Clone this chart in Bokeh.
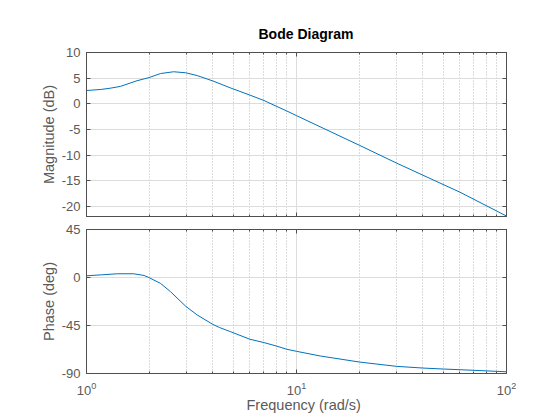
from bokeh.plotting import figure
from bokeh.models import LogAxis, LinearAxis, FixedTicker, Range1d, Title
from bokeh.layouts import column
from bokeh.embed import file_html
from bokeh.resources import INLINE

# ---- data ----
freq_mag = [1.0, 1.17, 1.3, 1.45, 1.74, 1.98, 2.25, 2.6, 2.97, 3.37, 4.0, 4.85,
            6.0, 7.0, 8.0, 9.0, 10.0, 20.0, 30.0, 40.0, 60.0, 100.0]
mag_db = [2.6, 2.8, 3.05, 3.4, 4.5, 5.1, 5.9, 6.25, 6.05, 5.5, 4.45, 3.1,
          1.7, 0.65, -0.45, -1.4, -2.3, -8.1, -11.55, -13.9, -17.2, -21.85]

freq_phase = [1.0, 1.18, 1.4, 1.68, 1.88, 1.98, 2.25, 2.51, 2.97, 3.37, 4.0, 4.3,
              4.85, 6.0, 7.0, 8.0, 9.0, 10.0, 13.0, 20.0, 30.0, 40.0, 50.0, 70.0, 100.0]
phase_deg = [1.6, 2.5, 3.5, 3.5, 1.9, 0.0, -5.5, -13.2, -27.0, -35.2, -44.0, -46.9,
             -50.8, -57.9, -61.0, -64.2, -67.3, -69.2, -73.6, -79.3, -83.3, -84.9,
             -85.8, -87.0, -88.4]

x_major = [1, 10, 100]
x_minor = [2, 3, 4, 5, 6, 7, 8, 9, 20, 30, 40, 50, 60, 70, 80, 90]
mag_ticks = [-20, -15, -10, -5, 0, 5, 10]
phase_ticks = [-90, -45, 0, 45]

FONT = "Liberation Sans"
BOX = "#4f4f4f"
TXT = "#5a5a5a"
LINE = "#0072BD"


def style_axis(ax, ticks, minor=None, labels=True):
    ax.ticker = FixedTicker(ticks=ticks, minor_ticks=minor or [])
    ax.axis_line_color = BOX
    ax.axis_line_width = 1
    ax.major_tick_line_color = BOX
    ax.minor_tick_line_color = BOX
    ax.major_tick_in = 4
    ax.major_tick_out = 0
    ax.minor_tick_in = 2
    ax.minor_tick_out = 0
    ax.major_label_text_font = FONT
    ax.major_label_text_color = TXT
    if labels:
        ax.major_label_text_font_size = "13px"
        ax.major_label_standoff = 6
    else:
        ax.major_label_text_font_size = "1px"
        ax.major_label_text_color = None
        ax.major_label_standoff = 0


def make_fig(h, yr, ytick, top_border, bottom_border, ylabel):
    p = figure(width=560, height=h, x_axis_type="log",
               x_range=Range1d(1, 100), y_range=Range1d(*yr),
               output_backend="svg", toolbar_location=None,
               min_border_left=86, min_border_right=54,
               min_border_top=top_border, min_border_bottom=bottom_border,
               background_fill_color="white", border_fill_color="white")
    p.outline_line_color = BOX
    p.outline_line_width = 1
    p.xgrid.ticker = FixedTicker(ticks=x_major, minor_ticks=x_minor)
    p.xgrid.grid_line_color = "#dcdcdc"
    p.xgrid.minor_grid_line_color = "#b8b8b8"
    p.xgrid.minor_grid_line_dash = "1 2"
    p.ygrid.ticker = FixedTicker(ticks=ytick)
    p.ygrid.grid_line_color = "#dcdcdc"
    left = p.left[0]
    style_axis(left, ytick)
    left.major_label_overrides = {t: str(t) for t in ytick}
    left.axis_label = ylabel
    left.axis_label_text_font = FONT
    left.axis_label_text_font_size = "14.5px"
    left.axis_label_text_font_style = "normal"
    left.axis_label_text_color = TXT
    left.axis_label_standoff = 2
    right = LinearAxis()
    style_axis(right, ytick, labels=False)
    p.add_layout(right, "right")
    top = LogAxis()
    style_axis(top, x_major, x_minor, labels=False)
    p.add_layout(top, "above")
    return p


p1 = make_fig(222, (-21.94, 10), mag_ticks, 52, 6, "Magnitude (dB)")
style_axis(p1.below[0], x_major, x_minor, labels=False)
p1.line(freq_mag, mag_db, line_color=LINE, line_width=1)
p1.add_layout(Title(text="Bode Diagram", align="left", offset=172, standoff=22,
                    text_font=FONT, text_font_size="14px",
                    text_font_style="bold", text_color="black"), "above")

p2 = make_fig(196, (-90, 45), phase_ticks, 7, 45, "Phase (deg)")
style_axis(p2.below[0], x_major, x_minor, labels=True)
p2.below[0].major_label_standoff = 8
p2.line(freq_phase, phase_deg, line_color=LINE, line_width=1)
p2.add_layout(Title(text="Frequency  (rad/s)", align="left", offset=160,
                    text_font=FONT, text_font_size="14.5px",
                    text_font_style="normal", text_color=TXT, standoff=-5), "below")

layout = column(p1, p2, spacing=0)
open("out.html", "w").write(file_html(layout, INLINE))
